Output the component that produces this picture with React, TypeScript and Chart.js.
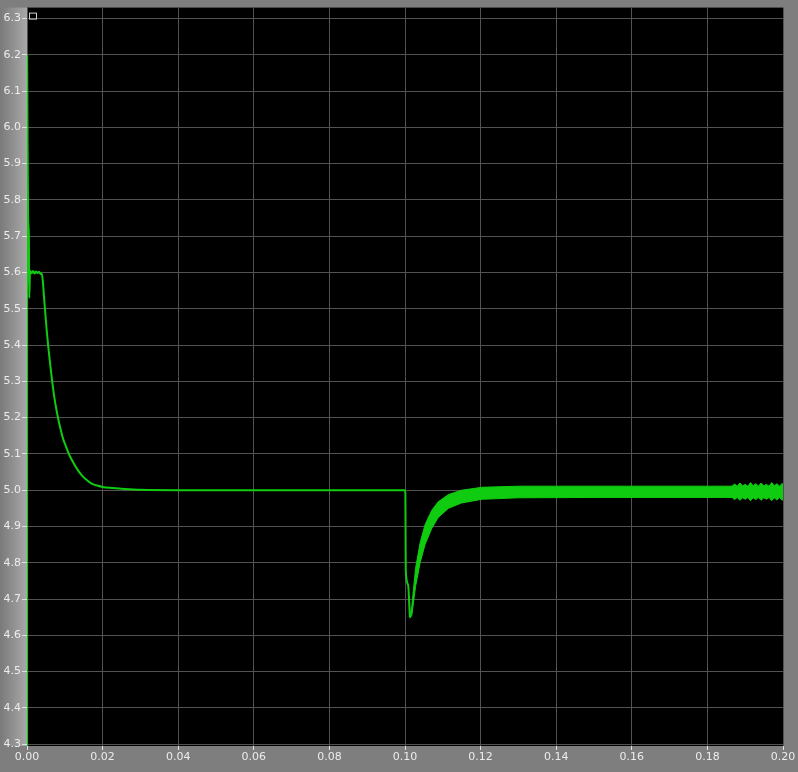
import React, { useEffect, useRef } from "react";
import { Chart, registerables } from "chart.js";

Chart.register(...registerables);

// Main trace (time in s, value)
const mainT = [0, 0.00003, 0.00015, 0.0003, 0.0005, 0.0006, 0.0008, 0.0012, 0.0016, 0.002, 0.0024, 0.0028, 0.0032, 0.0036, 0.0039, 0.0042, 0.0045, 0.0052, 0.0061, 0.0072, 0.008, 0.0089, 0.0096, 0.0103, 0.0113, 0.0123, 0.0134, 0.0145, 0.0158, 0.0171, 0.0185, 0.02, 0.0225, 0.025, 0.03, 0.04, 0.06, 0.08, 0.09, 0.1, 0.1001, 0.1002, 0.1008, 0.1013];
const mainV = [0, 6.2, 5.95, 5.75, 5.7, 5.53, 5.605, 5.598, 5.604, 5.597, 5.603, 5.598, 5.602, 5.596, 5.597, 5.575, 5.533, 5.442, 5.35, 5.258, 5.21, 5.167, 5.14, 5.121, 5.095, 5.075, 5.056, 5.041, 5.028, 5.018, 5.013, 5.009, 5.006, 5.004, 5.001, 5.0, 5.0, 5.0, 5.0, 5.0, 4.99, 4.78, 4.74, 4.649];

// Ripple band after the load step (upper / lower envelopes)
const bandT = [0.1013, 0.1018, 0.1028, 0.104, 0.1053, 0.1071, 0.1088, 0.1115, 0.115, 0.1204, 0.13, 0.15, 0.17, 0.1865, 0.1872, 0.1879, 0.1886, 0.1893, 0.19, 0.1907, 0.1914, 0.1921, 0.1928, 0.1935, 0.1942, 0.1949, 0.1956, 0.1963, 0.197, 0.1977, 0.1984, 0.1991, 0.1998, 0.2];
const bandUpper = [4.652, 4.68, 4.785, 4.855, 4.905, 4.945, 4.968, 4.988, 5.0, 5.008, 5.011, 5.011, 5.011, 5.011, 5.017, 5.011, 5.02, 5.012, 5.016, 5.011, 5.021, 5.012, 5.018, 5.011, 5.02, 5.012, 5.016, 5.011, 5.021, 5.012, 5.018, 5.011, 5.019, 5.012];
const bandLower = [4.647, 4.655, 4.735, 4.8, 4.85, 4.895, 4.925, 4.95, 4.965, 4.975, 4.979, 4.98, 4.98, 4.98, 4.974, 4.98, 4.972, 4.979, 4.975, 4.98, 4.971, 4.979, 4.974, 4.98, 4.972, 4.979, 4.975, 4.98, 4.971, 4.979, 4.973, 4.98, 4.972, 4.979];

const xTicks = [0, 0.02, 0.04, 0.06, 0.08, 0.1, 0.12, 0.14, 0.16, 0.18, 0.2];
const yTicks = [4.3, 4.4, 4.5, 4.6, 4.7, 4.8, 4.9, 5.0, 5.1, 5.2, 5.3, 5.4, 5.5, 5.6, 5.7, 5.8, 5.9, 6.0, 6.1, 6.2, 6.3];

const GREEN = "#10cc10";

const bgPlugin = {
  id: "bgPlugin",
  beforeDraw(chart: any) {
    const { ctx, chartArea, width, height } = chart;
    ctx.save();
    ctx.fillStyle = "#7e7e7e";
    ctx.fillRect(0, 0, width, height);
    const g = ctx.createLinearGradient(0, 0, chartArea.left, 0);
    g.addColorStop(0, "#7a7a7a");
    g.addColorStop(1, "#a8a8a8");
    ctx.fillStyle = g;
    ctx.fillRect(0, chartArea.top, chartArea.left, chartArea.bottom - chartArea.top);
    ctx.fillStyle = "#000000";
    ctx.fillRect(chartArea.left, chartArea.top, chartArea.right - chartArea.left, chartArea.bottom - chartArea.top);
    ctx.restore();
  },
  afterDraw(chart: any) {
    const { ctx, chartArea } = chart;
    ctx.save();
    ctx.strokeStyle = "#d0d0d0";
    ctx.lineWidth = 1;
    ctx.strokeRect(chartArea.left + 2.5, chartArea.top + 5.5, 7, 6);
    ctx.restore();
  },
};

export default function App() {
  const ref = useRef<HTMLCanvasElement>(null);
  useEffect(() => {
    if (!ref.current) return;
    const mainData = mainT.map((t, i) => ({ x: t, y: mainV[i] }));
    const lowData = bandT.map((t, i) => ({ x: t, y: bandLower[i] }));
    const upData = bandT.map((t, i) => ({ x: t, y: bandUpper[i] }));
    const chart = new Chart(ref.current, {
      type: "line",
      data: {
        datasets: [
          { data: lowData, borderColor: GREEN, borderWidth: 1, pointRadius: 0, fill: false, tension: 0 },
          { data: upData, borderColor: GREEN, borderWidth: 1, pointRadius: 0, fill: "-1", backgroundColor: GREEN, tension: 0 },
          { data: mainData, borderColor: GREEN, borderWidth: 2, pointRadius: 0, fill: false, cubicInterpolationMode: "monotone" },
        ],
      },
      options: {
        responsive: false,
        animation: false,
        events: [],
        layout: { padding: { top: 7, right: 15, left: 0, bottom: 0 } },
        plugins: { legend: { display: false }, tooltip: { enabled: false } },
        scales: {
          x: {
            type: "linear",
            min: 0,
            max: 0.2,
            afterFit: (s: any) => { s.height = 26; },
            afterBuildTicks: (s: any) => { s.ticks = xTicks.map((v) => ({ value: v })); },
            ticks: {
              color: "#ececec",
              font: { family: "DejaVu Sans", size: 11 },
              padding: 1,
              maxRotation: 0,
              autoSkip: false,
              callback: (v: any) => Number(v).toFixed(2),
            },
            grid: { color: "#525252", tickColor: "#e0e0e0", tickLength: 4, lineWidth: 1 },
            border: { display: false },
          },
          y: {
            type: "linear",
            min: 4.295,
            max: 6.33,
            afterFit: (s: any) => { s.width = 27; },
            afterBuildTicks: (s: any) => { s.ticks = yTicks.map((v) => ({ value: v })); },
            ticks: {
              color: "#ececec",
              font: { family: "DejaVu Sans", size: 11 },
              padding: 1,
              autoSkip: false,
              callback: (v: any) => Number(v).toFixed(1),
            },
            grid: { color: "#525252", tickColor: "#e0e0e0", tickLength: 5, lineWidth: 1 },
            border: { display: false },
          },
        },
      },
      plugins: [bgPlugin],
    });
    return () => chart.destroy();
  }, []);
  return (
    <div style={{ position: "fixed", left: 0, top: 0, width: 798, height: 772 }}>
      <canvas ref={ref} width={798} height={772} />
    </div>
  );
}
